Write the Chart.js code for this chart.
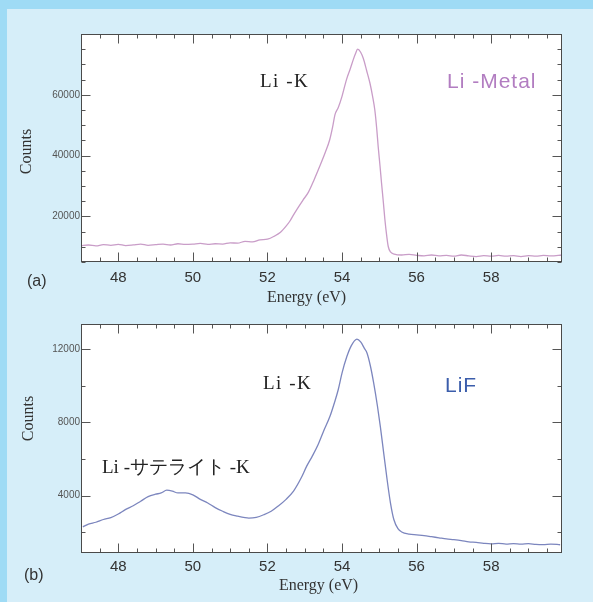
<!DOCTYPE html>
<html><head><meta charset="utf-8">
<script src="https://cdn.jsdelivr.net/npm/chart.js@4/dist/chart.umd.min.js"></script>
<style>
html,body{margin:0;padding:0;width:593px;height:602px;overflow:hidden;background:#d6eef9;}
#bandTop{position:absolute;left:0;top:0;width:593px;height:9px;background:#9fdbf5;}
#bandLeft{position:absolute;left:0;top:0;width:7px;height:602px;background:#9fdbf5;}
canvas{position:absolute;left:0;}
#ca{top:0;}
#cb{top:300px;}
.t{position:absolute;white-space:nowrap;line-height:1;}
.serif{font-family:"Liberation Serif","DejaVu Serif",serif;color:#222;}
.sans{font-family:"Liberation Sans",Arial,sans-serif;}
</style>
</head><body>
<div id="bandTop"></div><div id="bandLeft"></div>
<canvas id="ca" width="593" height="310"></canvas>
<canvas id="cb" width="593" height="302"></canvas>
<div class="t serif" style="left:260px;top:71px;font-size:19px;letter-spacing:1.5px;">Li -K</div>
<div class="t sans" style="left:447px;top:70px;font-size:21px;letter-spacing:1px;color:#b27dc1;">Li -Metal</div>
<div class="t sans" style="left:27px;top:273px;font-size:16px;color:#333;">(a)</div>
<div class="t serif" style="left:263px;top:373px;font-size:19px;letter-spacing:1.5px;">Li -K</div>
<div class="t sans" style="left:445px;top:374px;font-size:21px;letter-spacing:1px;color:#3b5dab;">LiF</div>
<div class="t serif" style="left:102px;top:457px;font-size:19px;">Li -サテライト -K</div>
<div class="t sans" style="left:24px;top:567px;font-size:16px;color:#333;">(b)</div>
<script>
// ---- data ----
const energyA = [47.0,47.2,47.4,47.6,47.8,48.0,48.2,48.4,48.6,48.8,49.0,49.2,49.4,49.6,49.8,50.0,50.2,50.4,50.6,50.8,51.0,51.2,51.4,51.6,51.8,52.0,52.2,52.35,52.5,52.6,52.7,52.8,52.95,53.1,53.25,53.4,53.55,53.67,53.75,53.81,53.9,54.0,54.12,54.22,54.3,54.36,54.42,54.5,54.57,54.66,54.75,54.82,54.88,54.93,54.97,55.02,55.06,55.11,55.15,55.2,55.24,55.3,55.4,55.6,55.8,56.0,56.2,56.4,56.6,56.8,57.0,57.2,57.4,57.6,57.8,58.0,58.2,58.4,58.6,58.8,59.0,59.2,59.4,59.6,59.9];
const countsA = [10400,10600,10300,10700,10500,10800,10400,10600,10900,10500,10700,10900,10600,11000,10800,10900,11100,10800,11000,10900,11300,11200,11800,11600,12300,12500,13600,14800,16800,18400,20500,22500,25300,28000,32000,36400,41000,45200,49500,53400,55800,59500,65000,68500,71500,73500,75000,74000,72000,68000,63800,59500,55000,49000,43000,36500,31000,24500,19000,13500,10100,8300,7600,7300,7500,7200,7000,7300,7000,7200,6900,7300,7000,6800,7100,6900,7200,6900,7100,6800,7100,6900,7200,7000,7300];
const energyB = [47.05,47.2,47.4,47.6,47.8,48.0,48.2,48.4,48.6,48.8,49.0,49.15,49.3,49.45,49.6,49.8,50.0,50.2,50.4,50.6,50.8,51.0,51.2,51.4,51.5,51.7,51.9,52.1,52.3,52.5,52.7,52.9,53.05,53.2,53.36,53.5,53.68,53.8,53.9,54.0,54.13,54.25,54.4,54.5,54.6,54.67,54.76,54.85,54.95,55.03,55.12,55.21,55.3,55.39,55.5,55.6,55.8,56.0,56.2,56.4,56.6,56.8,57.0,57.2,57.4,57.6,57.8,58.0,58.2,58.4,58.6,58.8,59.0,59.2,59.4,59.6,59.85];
const countsB = [2300,2450,2550,2700,2800,3000,3250,3450,3700,3950,4080,4150,4300,4250,4150,4150,4050,3800,3600,3350,3150,2980,2880,2800,2780,2820,2960,3150,3450,3800,4250,4950,5600,6150,6800,7500,8350,9100,9800,10700,11600,12200,12550,12400,12050,11800,11100,10150,8900,7750,6300,4870,3600,2700,2200,2020,1900,1860,1820,1760,1700,1640,1600,1550,1480,1450,1400,1370,1400,1360,1380,1350,1380,1340,1330,1360,1320];
const xTickValues = [48,50,52,54,56,58];
const yTickValuesA = [20000,40000,60000];
const yTickValuesB = [4000,8000,12000];

const frame = {
  id:'frame',
  beforeDraw(chart){
    const {ctx, chartArea:a} = chart;
    ctx.save(); ctx.fillStyle='#ffffff';
    ctx.fillRect(a.left,a.top,a.right-a.left,a.bottom-a.top); ctx.restore();
  },
  afterLayout(chart, args, opts){
    for (const id of ['x','y']) {
      const s = chart.scales[id];
      if (s && !s._shiftPatched) {
        const orig = s.drawTitle.bind(s);
        const sh = (opts.titleShift && opts.titleShift[id]) || [0,0];
        s.drawTitle = function(){ const c=this.ctx; c.save(); c.translate(sh[0],sh[1]); orig(); c.restore(); };
        s._shiftPatched = true;
      }
    }
  },
  afterDatasetsDraw(chart, args, opts){
    const {ctx, chartArea:a, scales:{x,y}} = chart;
    const L=Math.round(a.left)+0.5, R=Math.round(a.right)-0.5, T=Math.round(a.top)+0.5, B=Math.round(a.bottom)-0.5;
    ctx.save();
    ctx.strokeStyle='#555'; ctx.lineWidth=1;
    ctx.beginPath();
    const xMaj = x.ticks.map(t=>t.value);
    for (let v=Math.ceil(x.min/opts.xMinor)*opts.xMinor; v<=x.max+1e-9; v+=opts.xMinor){
      const px = Math.round(x.getPixelForValue(v))+0.5;
      const major = xMaj.some(m=>Math.abs(m-v)<1e-6);
      const len = major?9:4;
      ctx.moveTo(px,B); ctx.lineTo(px,B-len);
      ctx.moveTo(px,T); ctx.lineTo(px,T+len);
    }
    const yMaj = y.ticks.map(t=>t.value);
    for (let v=Math.ceil(y.min/opts.yMinor)*opts.yMinor; v<=y.max+1e-9; v+=opts.yMinor){
      const py = Math.round(y.getPixelForValue(v))+0.5;
      const major = yMaj.some(m=>Math.abs(m-v)<1e-6);
      const len = major?9:4;
      ctx.moveTo(L,py); ctx.lineTo(L+len,py);
      ctx.moveTo(R,py); ctx.lineTo(R-len,py);
    }
    ctx.stroke();
    ctx.strokeStyle='#4a4a4a';
    ctx.strokeRect(L,T,R-L,B-T);
    ctx.restore();
  }
};

function makeChart(id, energy, counts, color, yMin, yMax, yTicks, yMinor, geo){
  const pts = energy.map((e,i)=>({x:e,y:counts[i]}));
  return new Chart(document.getElementById(id), {
    type:'line',
    data:{datasets:[{data:pts, borderColor:color, borderWidth:1.3, pointRadius:0, fill:false, cubicInterpolationMode:'monotone'}]},
    plugins:[frame],
    options:{
      responsive:false, animation:false, devicePixelRatio:1,
      layout:{padding:{left:0,top:geo.top,right:geo.right,bottom:0}},
      plugins:{legend:{display:false}, tooltip:{enabled:false},
        frame:{xMinor:0.5, yMinor:yMinor, titleShift:geo.titleShift}},
      scales:{
        x:{type:'linear', position:'bottom', min:47, max:59.9,
          afterBuildTicks:s=>{s.ticks = xTickValues.map(v=>({value:v}));},
          afterFit:s=>{s.height = geo.xh;},
          grid:{display:false, drawTicks:false}, border:{display:false},
          ticks:{padding:geo.xpad, color:'#333', font:{family:'"Liberation Sans", Arial, sans-serif', size:15}, callback:v=>String(v), maxRotation:0},
          title:{display:true, text:'Energy (eV)', color:'#333', font:{family:'"Liberation Serif", serif', size:16}, padding:{top:0,bottom:geo.xtpad}}
        },
        y:{type:'linear', min:yMin, max:yMax,
          afterBuildTicks:s=>{s.ticks = yTicks.map(v=>({value:v}));},
          afterFit:s=>{s.width = 81;},
          grid:{display:false, drawTicks:false}, border:{display:false},
          ticks:{padding:1, color:'#555', font:{family:'"Liberation Sans Narrow", "Liberation Sans", sans-serif', size:10}, callback:v=>String(v)},
          title:{display:true, text:'Counts', color:'#333', font:{family:'"Liberation Serif", serif', size:16}, padding:{top:geo.ytpad,bottom:0}}
        }
      }
    }
  });
}

makeChart('ca', energyA, countsA, '#c99dc8', 5000, 80000, yTickValuesA, 5000,
  {top:34, right:31, xh:48, xpad:7, xtpad:2.4, ytpad:17.4, titleShift:{x:[-15,0], y:[0,3.5]}});
makeChart('cb', energyB, countsB, '#7c86be', 870, 13380, yTickValuesB, 2000,
  {top:24, right:31, xh:49, xpad:5, xtpad:6.4, ytpad:19.4, titleShift:{x:[-3,0], y:[0,-20]}});
</script>
</body></html>
